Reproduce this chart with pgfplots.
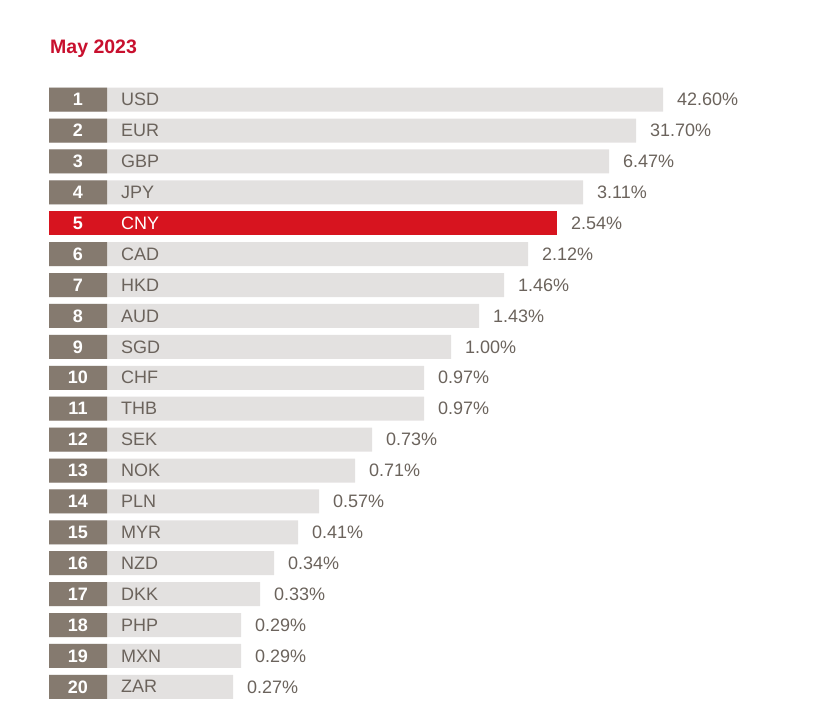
\documentclass[border=0pt]{standalone}
\usepackage{pgfplots}
\pgfplotsset{compat=1.18}
\usepackage{pgfplotstable}
\usepackage{fontspec}
\setmainfont{Liberation Sans}

\definecolor{rankbox}{HTML}{857A6F}
\definecolor{barbg}{HTML}{E3E1E0}
\definecolor{txt}{HTML}{6B635C}
\definecolor{hl}{HTML}{D7141F}
\definecolor{ttl}{HTML}{C8102E}

% y = row centre (px from top), len = bar length from the left edge of the rank box
\pgfplotstableread{
y len pct cur rk
99.7 614 42.60 USD 1
130.6 587 31.70 EUR 2
161.5 560 6.47 GBP 3
192.4 534 3.11 JPY 4
254.2 479 2.12 CAD 6
285.1 455 1.46 HKD 7
316.0 430 1.43 AUD 8
346.9 402 1.00 SGD 9
377.8 375 0.97 CHF 10
408.7 375 0.97 THB 11
439.6 323 0.73 SEK 12
470.5 306 0.71 NOK 13
501.4 270 0.57 PLN 14
532.3 249 0.41 MYR 15
563.2 225 0.34 NZD 16
594.1 211 0.33 DKK 17
625.0 192 0.29 PHP 18
655.9 192 0.29 MXN 19
686.8 184 0.27 ZAR 20
}\others
\pgfplotstableread{
y len pct cur rk
223.3 508 2.54 CNY 5
}\cny

\begin{document}
\begin{tikzpicture}
\begin{axis}[
    width=832pt, height=708pt, scale only axis,
    hide axis,
    xmin=-49, xmax=783, ymin=0, ymax=708,
    y dir=reverse,
    xbar, bar width=24, bar shift=0pt,
    clip=false,
    point meta=explicit symbolic,
    nodes near coords style={font=\fontsize{18}{20}\selectfont, inner sep=0pt},
    ]
    % grey bars with the share after them
    \addplot[fill=barbg, draw=none,
        nodes near coords={\pgfplotspointmeta\%},
        nodes near coords style={anchor=west, xshift=14pt, text=txt}]
        table[x=len, y=y, meta=pct] {\others};
    % highlighted CNY bar
    \addplot[fill=hl, draw=none,
        nodes near coords={\pgfplotspointmeta\%},
        nodes near coords style={anchor=west, xshift=14pt, text=txt}]
        table[x=len, y=y, meta=pct] {\cny};
    % rank boxes
    \addplot[fill=rankbox, draw=none] table[x expr=58, y=y] {\others};
    % rank numbers
    \addplot[draw=none, fill=none,
        nodes near coords, nodes near coords style={anchor=center, xshift=0pt, font=\bfseries\fontsize{18}{20}\selectfont, text=white}]
        table[x expr=29, y=y, meta=rk] {\others};
    \addplot[draw=none, fill=none,
        nodes near coords, nodes near coords style={anchor=center, font=\bfseries\fontsize{18}{20}\selectfont, text=white}]
        table[x expr=29, y=y, meta=rk] {\cny};
    % currency codes
    \addplot[draw=none, fill=none,
        nodes near coords, nodes near coords style={anchor=west, text=txt}]
        table[x expr=72, y=y, meta=cur] {\others};
    \addplot[draw=none, fill=none,
        nodes near coords, nodes near coords style={anchor=west, text=white}]
        table[x expr=72, y=y, meta=cur] {\cny};
    \node[anchor=west, inner sep=0pt, text=ttl, font=\bfseries\fontsize{19.5}{22}\selectfont]
        at (axis cs:1,49) {May 2023};
\end{axis}
\pgfresetboundingbox
\useasboundingbox (current axis.south west) rectangle (current axis.north east);
\end{tikzpicture}
\end{document}
